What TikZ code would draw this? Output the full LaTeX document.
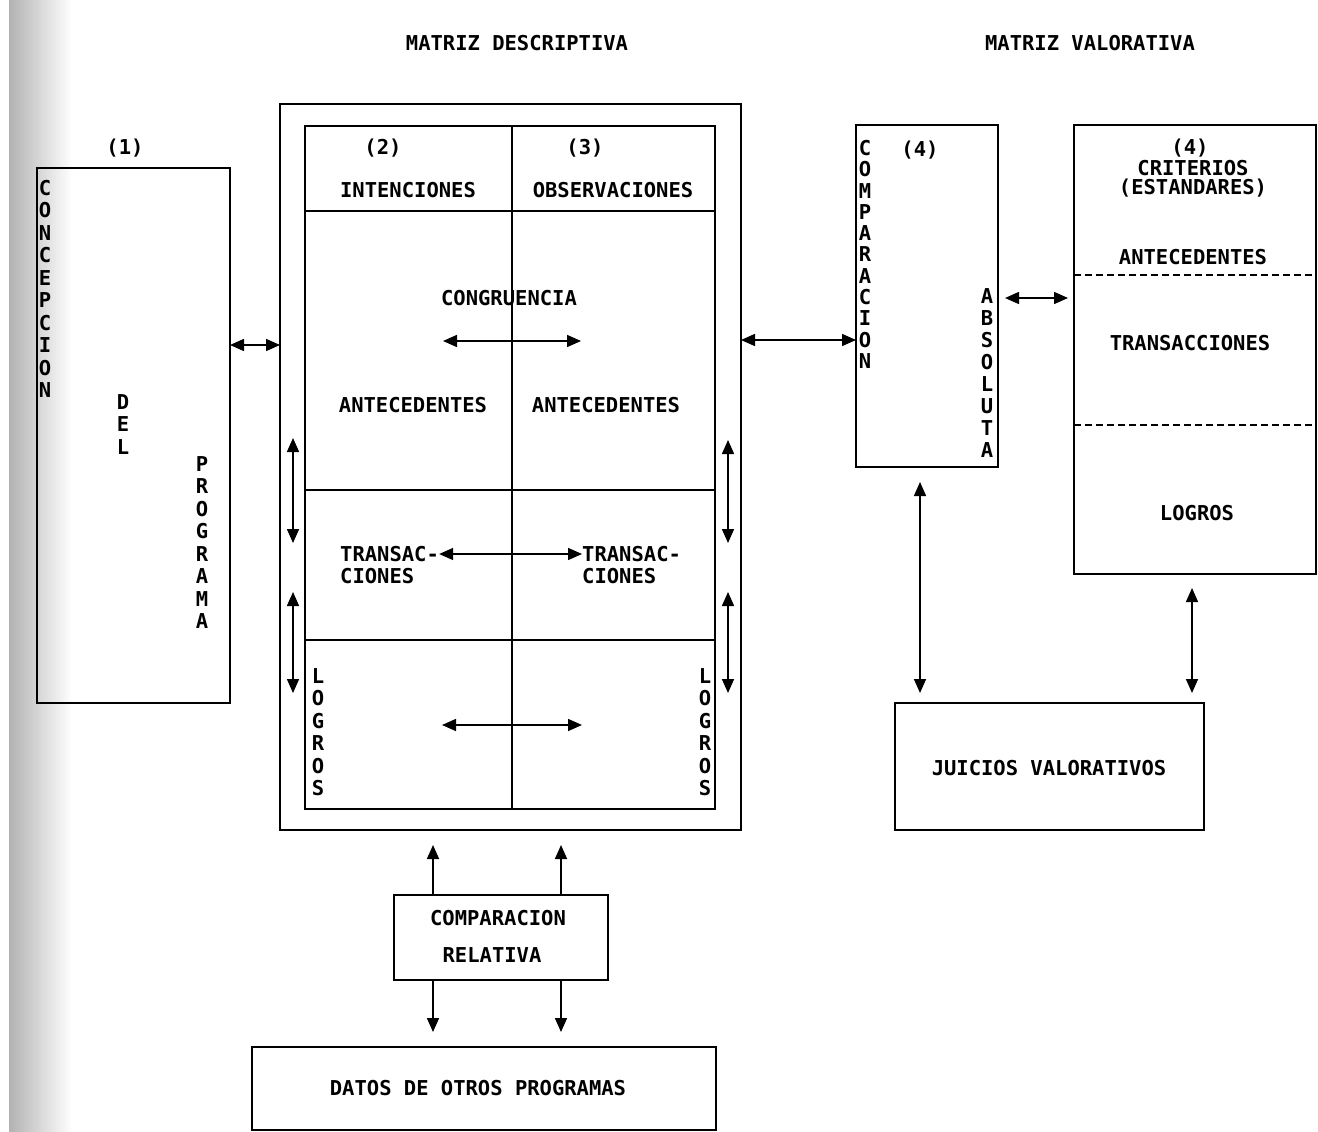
\documentclass[tikz,border=0pt]{standalone}
\usepackage{fontspec}
\newfontfamily\dotfont{DejaVu Sans Mono}
\usetikzlibrary{arrows.meta}

\begin{document}
\begin{tikzpicture}[x=1pt,y=-1pt,>={Triangle[length=14pt,width=12pt]},
  box/.style={draw,line width=1.6pt,inner sep=0pt,outer sep=0pt,anchor=north west},
  lbl/.style={font=\dotfont\bfseries\fontsize{20.5}{22}\selectfont,inner sep=0pt},
  vert/.style={lbl,align=center,anchor=north,font=\dotfont\bfseries\fontsize{20.5}{22.5}\selectfont},
  arr/.style={line width=1.5pt},
  dashline/.style={line width=1.4pt,dash pattern=on 7pt off 4pt}]

  \useasboundingbox (0,0) rectangle (1318,1132);
  \shade[left color=black!30,right color=white] (9,0) rectangle (72,1132);

  % titulos
  \node[lbl] (tdesc) at (517,43) {MATRIZ DESCRIPTIVA};
  \node[lbl] (tval) at (1090,43) {MATRIZ VALORATIVA};

  % (1) concepcion del programa
  \node[lbl] (n1) at (125,148) {(1)};
  \node[box,minimum width=193,minimum height=535] (prog) at (37,168) {};
  \node[vert] (concep) at (45,180) {C\\O\\N\\C\\E\\P\\C\\I\\O\\N};
  \node[vert] (del) at (123,394) {D\\E\\L};
  \node[vert] (progr) at (202,456) {P\\R\\O\\G\\R\\A\\M\\A};

  % matriz descriptiva
  \node[box,minimum width=461,minimum height=726] (desc) at (280,104) {};
  \node[box,minimum width=410,minimum height=683] (inner) at (305,126) {};
  \draw[line width=1.4pt] (512,126) -- (512,809);
  \draw[line width=1.6pt] (305,211) -- (715,211);
  \draw[line width=1.6pt] (305,490) -- (715,490);
  \draw[line width=1.6pt] (305,640) -- (715,640);

  \node[lbl] (n2) at (383,148) {(2)};
  \node[lbl] (inten) at (408,190) {INTENCIONES};
  \node[lbl] (n3) at (585,148) {(3)};
  \node[lbl] (obser) at (613,190) {OBSERVACIONES};
  \node[lbl] (congr) at (509,298) {CONGRUENCIA};
  \node[lbl] (antl) at (413,405) {ANTECEDENTES};
  \node[lbl] (antr) at (606,405) {ANTECEDENTES};
  \node[lbl,align=left,anchor=west] (trl) at (340,565) {TRANSAC-\\CIONES};
  \node[lbl,align=left,anchor=west] (trr) at (582,565) {TRANSAC-\\CIONES};
  \node[vert] (logl) at (318,668) {L\\O\\G\\R\\O\\S};
  \node[vert] (logr) at (705,668) {L\\O\\G\\R\\O\\S};

  \coordinate (cga) at (443,341);
  \coordinate (cgb) at (581,341);
  \coordinate (lga) at (442,725);
  \coordinate (lgb) at (582,725);
  \draw[arr,<->] (cga) -- (cgb);
  \draw[arr,<->] (trl.east |- 0,554) -- (trr.west |- 0,554);
  \draw[arr,<->] (lga) -- (lgb);

  \coordinate (la1) at (293,438);
  \coordinate (la2) at (293,543);
  \coordinate (la3) at (293,592);
  \coordinate (la4) at (293,693);
  \coordinate (ra1) at (728,440);
  \coordinate (ra2) at (728,543);
  \coordinate (ra3) at (728,592);
  \coordinate (ra4) at (728,693);
  \draw[arr,<->] (la1) -- (la2);
  \draw[arr,<->] (la3) -- (la4);
  \draw[arr,<->] (ra1) -- (ra2);
  \draw[arr,<->] (ra3) -- (ra4);

  % comparacion absoluta
  \node[box,minimum width=142,minimum height=342] (comp) at (856,125) {};
  \node[lbl] (n4a) at (920,150) {(4)};
  \node[vert,font=\dotfont\bfseries\fontsize{20.5}{21.3}\selectfont] (compv) at (865,140) {C\\O\\M\\P\\A\\R\\A\\C\\I\\O\\N};
  \node[vert,font=\dotfont\bfseries\fontsize{20.5}{22.1}\selectfont] (absol) at (987,288) {A\\B\\S\\O\\L\\U\\T\\A};

  % criterios
  \node[box,minimum width=242,minimum height=449] (crit) at (1074,125) {};
  \node[lbl] (n4b) at (1190,148) {(4)};
  \node[lbl] (criter) at (1193,168) {CRITERIOS};
  \node[lbl] (estand) at (1193,188) {(ESTANDARES)};
  \node[lbl] (antc) at (1193,257) {ANTECEDENTES};
  \draw[dashline] (crit.west |- 0,275) -- (crit.east |- 0,275);
  \node[lbl] (trc) at (1190,343) {TRANSACCIONES};
  \draw[dashline] (crit.west |- 0,425) -- (crit.east |- 0,425);
  \node[lbl] (logc) at (1197,513) {LOGROS};

  % juicios
  \node[box,minimum width=309,minimum height=127] (juic) at (895,703) {};
  \node[lbl] (juict) at (1049,768) {JUICIOS VALORATIVOS};

  % comparacion relativa y otros programas
  \node[box,minimum width=214,minimum height=85] (rel) at (394,895) {};
  \node[lbl] (relt1) at (498,918) {COMPARACION};
  \node[lbl] (relt2) at (492,955) {RELATIVA};
  \node[box,minimum width=464,minimum height=83] (datos) at (252,1047) {};
  \node[lbl] (datost) at (478,1088) {DATOS DE OTROS PROGRAMAS};

  % conexiones
  \draw[arr,<->] (prog.east |- 0,345) -- (desc.west |- 0,345);
  \draw[arr,<->] (desc.east |- 0,340) -- (comp.west |- 0,340);
  \draw[arr,<->,shorten <=7pt,shorten >=6pt] (comp.east |- 0,298) -- (crit.west |- 0,298);
  \draw[arr,<->,shorten <=15pt,shorten >=10pt] (comp.south -| 920,0) -- (juic.north -| 920,0);
  \draw[arr,<->,shorten <=14pt,shorten >=10pt] (crit.south -| 1192,0) -- (juic.north -| 1192,0);
  \draw[arr,->,shorten >=15pt] (rel.north -| 433,0) -- (desc.south -| 433,0);
  \draw[arr,->,shorten >=15pt] (rel.north -| 561,0) -- (desc.south -| 561,0);
  \draw[arr,->,shorten >=15pt] (rel.south -| 433,0) -- (datos.north -| 433,0);
  \draw[arr,->,shorten >=15pt] (rel.south -| 561,0) -- (datos.north -| 561,0);
\end{tikzpicture}
\end{document}
